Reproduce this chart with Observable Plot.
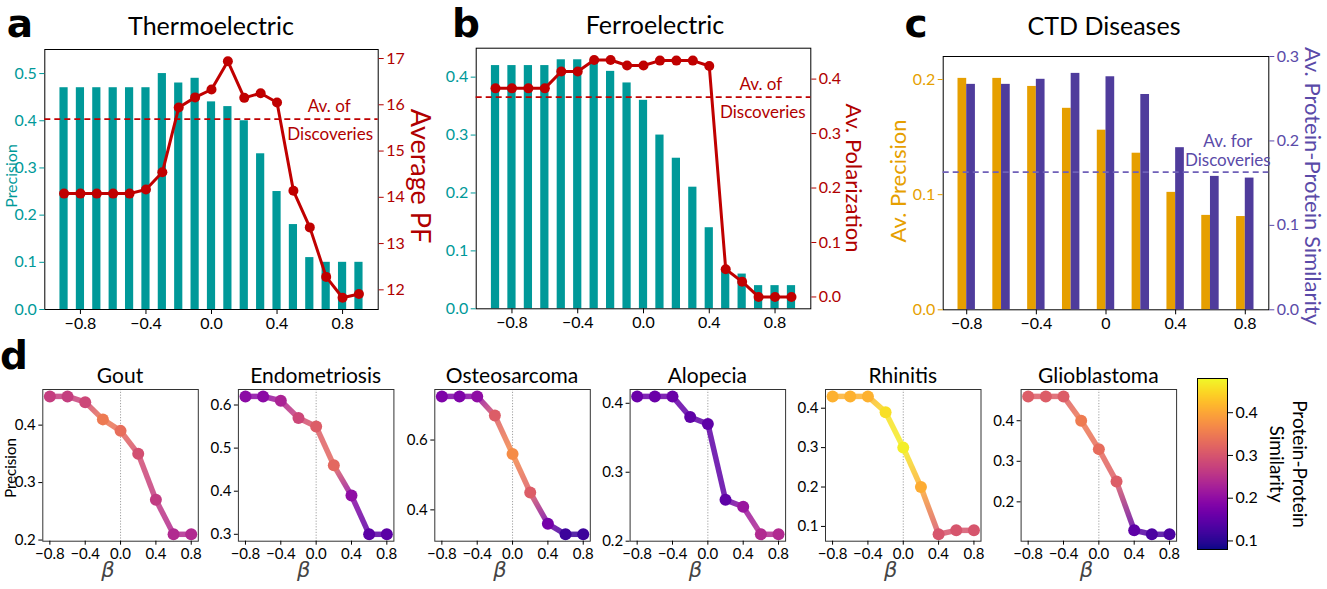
<!DOCTYPE html>
<html><head><meta charset="utf-8">
<script src="https://cdn.jsdelivr.net/npm/d3@7"></script>
<script src="https://cdn.jsdelivr.net/npm/@observablehq/plot@0.6"></script>
<style>
body{margin:0;background:#fff;}
#root{position:relative;width:1327px;height:589px;overflow:hidden;background:#fff;}
</style></head><body><div id="root"></div>
<script>
// ---------- DATA ----------
const betaAB = [-0.9,-0.8,-0.7,-0.6,-0.5,-0.4,-0.3,-0.2,-0.1,0,0.1,0.2,0.3,0.4,0.5,0.6,0.7,0.8,0.9];
const thermoPrecision = [0.47,0.47,0.47,0.47,0.47,0.47,0.50,0.48,0.49,0.44,0.43,0.40,0.33,0.25,0.18,0.11,0.10,0.10,0.10];
const thermoPF = [14.08,14.08,14.08,14.08,14.08,14.17,14.54,15.94,16.16,16.33,16.94,16.15,16.25,16.05,14.14,13.35,12.28,11.83,11.91];
const thermoAvgPF = [15.69];
const ferroPrecision = [0.42,0.42,0.42,0.42,0.43,0.43,0.43,0.41,0.39,0.36,0.30,0.26,0.21,0.14,0.07,0.06,0.04,0.04,0.04];
const ferroPolarization = [0.383,0.383,0.383,0.383,0.414,0.414,0.435,0.435,0.425,0.425,0.434,0.434,0.434,0.424,0.051,0.028,0.0,0.0,0.0];
const ferroAvgPol = [0.367];
const betaC = [-0.8,-0.6,-0.4,-0.2,0,0.2,0.4,0.6,0.8];
const ctdPrecision = [0.201,0.201,0.194,0.175,0.156,0.136,0.102,0.082,0.081];
const ctdSimilarity = [0.267,0.267,0.273,0.280,0.276,0.255,0.192,0.158,0.156];
const ctdAvgSim = [0.163];

const betaD = [-0.8,-0.6,-0.4,-0.2,0,0.2,0.4,0.6,0.8];
const diseaseNames = ["Gout","Endometriosis","Osteosarcoma","Alopecia","Rhinitis","Glioblastoma"];
const goutPrecision = [0.45,0.45,0.44,0.41,0.39,0.35,0.27,0.21,0.21];
const goutSimilarity = [0.268,0.268,0.28,0.348,0.332,0.292,0.264,0.24,0.24];
const endoPrecision = [0.62,0.62,0.61,0.57,0.55,0.46,0.39,0.30,0.30];
const endoSimilarity = [0.195,0.195,0.23,0.28,0.31,0.325,0.20,0.145,0.145];
const osteoPrecision = [0.725,0.725,0.725,0.67,0.56,0.45,0.36,0.33,0.33];
const osteoSimilarity = [0.18,0.18,0.20,0.31,0.37,0.31,0.17,0.115,0.115];
const alopeciaPrecision = [0.41,0.41,0.41,0.38,0.37,0.26,0.25,0.21,0.21];
const alopeciaSimilarity = [0.16,0.16,0.16,0.148,0.148,0.148,0.21,0.24,0.24];
const rhinitisPrecision = [0.43,0.43,0.43,0.39,0.30,0.20,0.08,0.09,0.09];
const rhinitisSimilarity = [0.41,0.41,0.41,0.455,0.47,0.405,0.30,0.30,0.30];
const glioPrecision = [0.46,0.46,0.46,0.40,0.33,0.25,0.13,0.12,0.12];
const glioSimilarity = [0.31,0.31,0.31,0.35,0.33,0.31,0.148,0.13,0.13];

const ticksAB = [-0.8,-0.4,0,0.4,0.8];
const thermoLeftTicks = [0,0.1,0.2,0.3,0.4,0.5];
const thermoRightTicks = [12,13,14,15,16,17];
const ferroLeftTicks = [0,0.1,0.2,0.3,0.4];
const ferroRightTicks = [0,0.1,0.2,0.3,0.4];
const ctdLeftTicks = [0,0.1,0.2];
const ctdRightTicks = [0,0.1,0.2,0.3];
const ticksD = [-0.8,-0.4,0,0.4,0.8];
const goutTicks = [0.2,0.3,0.4];
const endoTicks = [0.3,0.4,0.5,0.6];
const osteoTicks = [0.4,0.6];
const alopeciaTicks = [0.2,0.3,0.4];
const rhinitisTicks = [0.1,0.2,0.3,0.4];
const glioTicks = [0.2,0.3,0.4];
const colorbarDomain = [0.08,0.48];
const colorbarTicks = [0.1,0.2,0.3,0.4];

// ---------- SETUP ----------
const W = 1327, H = 589;
const root = document.getElementById("root");
const FONT = "Lato, 'Open Sans', sans-serif";
const fmt1 = d3.format(".1f");
const TEAL = "#009999", RED = "#c00000", DRED = "#b00000", ORANGE = "#e69f00", PURPLE = "#4f3c9c";

function framePlot(frame, opts) {
  const svg = Plot.plot({
    width: W, height: H,
    marginLeft: frame.left, marginRight: W - frame.right,
    marginTop: frame.top, marginBottom: H - frame.bottom,
    style: {background: "transparent", fontFamily: FONT, fontSize: "16px", overflow: "visible"},
    ...opts
  });
  svg.style.position = "absolute"; svg.style.left = "0px"; svg.style.top = "0px";
  root.appendChild(svg);
  return svg;
}
const axX = (ticks, fmt, extra={}) => Plot.axisX({ticks, tickFormat: fmt, tickSize: 5, tickPadding: 3, fontSize: 16, color: "#000", label: null, ...extra});
const axY = (ticks, fmt, color, anchor, extra={}) => Plot.axisY({anchor, ticks, tickFormat: fmt, tickSize: 5, tickPadding: 3, fontSize: 16, color, label: null, ...extra});

// ---------- PANEL A ----------
const thermoData = betaAB.map((b,i)=>({beta:b, precision:thermoPrecision[i], pf:thermoPF[i]}));
const frameA = {left:44.3, right:377.7, top:49, bottom:309};
const xAB = [-1.0175, 1.0175];
const half = 0.025;
framePlot(frameA, {
  x:{domain:xAB, axis:null}, y:{domain:[0,0.551], axis:null},
  marks:[
    Plot.rect(thermoData,{x1:d=>d.beta-half, x2:d=>d.beta+half, y1:0, y2:"precision", fill:TEAL}),
    Plot.frame({stroke:"#000"}),
    axX(ticksAB, fmt1),
    axY(thermoLeftTicks, fmt1, TEAL, "left")
  ]
});
framePlot(frameA, {
  x:{domain:xAB, axis:null}, y:{domain:[11.575,17.195], axis:null},
  marks:[
    Plot.ruleY(thermoAvgPF,{stroke:RED, strokeWidth:1.6, strokeDasharray:"6,4"}),
    Plot.line(thermoData,{x:"beta", y:"pf", stroke:RED, strokeWidth:3}),
    Plot.dot(thermoData,{x:"beta", y:"pf", fill:RED, r:5}),
    axY(thermoRightTicks, d3.format("d"), DRED, "right"),
    Plot.text(thermoAvgPF,{y:d=>d, text:()=>"Av. of", frameAnchor:"right", dx:-49, dy:-13, fill:DRED, fontSize:17, textAnchor:"middle", lineAnchor:"middle"}),
    Plot.text(thermoAvgPF,{y:d=>d, text:()=>"Discoveries", frameAnchor:"right", dx:-48, dy:15, fill:DRED, fontSize:17, textAnchor:"middle", lineAnchor:"middle"})
  ]
});

// ---------- PANEL B ----------
const ferroData = betaAB.map((b,i)=>({beta:b, precision:ferroPrecision[i], pol:ferroPolarization[i]}));
const frameB = {left:475.7, right:810.3, top:47.7, bottom:308.3};
framePlot(frameB, {
  x:{domain:xAB, axis:null}, y:{domain:[0,0.45], axis:null},
  marks:[
    Plot.rect(ferroData,{x1:d=>d.beta-half, x2:d=>d.beta+half, y1:0, y2:"precision", fill:TEAL}),
    Plot.frame({stroke:"#000"}),
    axX(ticksAB, fmt1),
    axY(ferroLeftTicks, fmt1, TEAL, "left")
  ]
});
framePlot(frameB, {
  x:{domain:xAB, axis:null}, y:{domain:[-0.02175,0.45675], axis:null},
  marks:[
    Plot.ruleY(ferroAvgPol,{stroke:RED, strokeWidth:1.6, strokeDasharray:"6,4"}),
    Plot.line(ferroData,{x:"beta", y:"pol", stroke:RED, strokeWidth:3}),
    Plot.dot(ferroData,{x:"beta", y:"pol", fill:RED, r:5}),
    axY(ferroRightTicks, fmt1, DRED, "right"),
    Plot.text(ferroAvgPol,{y:d=>d, text:()=>"Av. of", frameAnchor:"right", dx:-50, dy:-13, fill:DRED, fontSize:17, textAnchor:"middle", lineAnchor:"middle"}),
    Plot.text(ferroAvgPol,{y:d=>d, text:()=>"Discoveries", frameAnchor:"right", dx:-48, dy:15, fill:DRED, fontSize:17, textAnchor:"middle", lineAnchor:"middle"})
  ]
});

// ---------- PANEL C ----------
const ctdData = betaC.map((b,i)=>({beta:b, precision:ctdPrecision[i], sim:ctdSimilarity[i]}));
const frameC = {left:942.7, right:1268.3, top:56, bottom:309.3};
const xC = [-0.935, 0.935];
const wC = 0.05;
const fmtC = d => d === 0 ? "0" : fmt1(d);
framePlot(frameC, {
  x:{domain:xC, axis:null}, y:{domain:[0,0.22], axis:null},
  marks:[
    Plot.rect(ctdData,{x1:d=>d.beta-wC, x2:d=>d.beta, y1:0, y2:"precision", fill:ORANGE}),
    Plot.frame({stroke:"#000"}),
    axX(ticksAB, fmtC),
    axY(ctdLeftTicks, fmt1, ORANGE, "left")
  ]
});
framePlot(frameC, {
  x:{domain:xC, axis:null}, y:{domain:[0,0.3], axis:null},
  marks:[
    Plot.rect(ctdData,{x1:"beta", x2:d=>d.beta+wC, y1:0, y2:"sim", fill:PURPLE}),
    Plot.ruleY(ctdAvgSim,{stroke:"#6f60b8", strokeWidth:1.6, strokeDasharray:"6,4"}),
    axY(ctdRightTicks, fmt1, "#5a4aa8", "right"),
    Plot.text(ctdAvgSim,{y:d=>d, text:()=>"Av. for", frameAnchor:"right", dx:-41, dy:-31, fill:"#5a4aa8", fontSize:17, textAnchor:"middle", lineAnchor:"middle"}),
    Plot.text(ctdAvgSim,{y:d=>d, text:()=>"Discoveries", frameAnchor:"right", dx:-41, dy:-12, fill:"#5a4aa8", fontSize:17, textAnchor:"middle", lineAnchor:"middle"})
  ]
});

// ---------- PANEL D ----------
const dPrecisions = [goutPrecision, endoPrecision, osteoPrecision, alopeciaPrecision, rhinitisPrecision, glioPrecision];
const dSims = [goutSimilarity, endoSimilarity, osteoSimilarity, alopeciaSimilarity, rhinitisSimilarity, glioSimilarity];
const dTicks = [goutTicks, endoTicks, osteoTicks, alopeciaTicks, rhinitisTicks, glioTicks];
const dLeft = [42.3, 237.9, 434.3, 629.6, 825.0, 1020.6];
const dWidth = 155.5;
const dCenters = [];
diseaseNames.forEach((name, i) => {
  const prec = dPrecisions[i], sim = dSims[i];
  const pts = betaD.map((b,j)=>({beta:b, precision:prec[j], sim:sim[j]}));
  const segs = d3.pairs(pts).map(([a,b])=>({a,b}));
  const [lo,hi] = d3.extent(prec); const pad = (hi-lo)*0.05;
  const frame = {left:dLeft[i], right:dLeft[i]+dWidth, top:389, bottom:540.7};
  dCenters.push((frame.left+frame.right)/2);
  const svg = framePlot(frame, {
    x:{domain:[-0.88,0.88], axis:null}, y:{domain:[lo-pad,hi+pad], axis:null},
    color:{type:"linear", scheme:"plasma", domain:colorbarDomain},
    marks:[
      Plot.ruleX([0],{stroke:"#888", strokeWidth:0.8, strokeDasharray:"1.2,1.6"}),
      Plot.link(segs,{x1:d=>d.a.beta, y1:d=>d.a.precision, x2:d=>d.b.beta, y2:d=>d.b.precision, stroke:d=>d.a.sim, strokeWidth:5.5, strokeOpacity:0.85}),
      Plot.dot(pts,{x:"beta", y:"precision", fill:"sim", r:6}),
      Plot.frame({stroke:"#333"}),
      Plot.axisX({ticks:ticksD, tickFormat:fmt1, tickSize:4, tickPadding:3, fontSize:15, color:"#000", label:null}),
      Plot.axisY({ticks:dTicks[i], tickFormat:fmt1, tickSize:4, tickPadding:3, fontSize:15, color:"#000", label:null})
    ]
  });
  const xs = svg.scale("x"), ys = svg.scale("y"), cs = svg.scale("color");
  const sel = d3.select(svg);
  const defs = sel.insert("defs", ":first-child");
  sel.selectAll('g[aria-label="link"] path').each(function(_, j) {
    const s = segs[j]; if (!s) return;
    const id = `grad${i}_${j}`;
    const g = defs.append("linearGradient").attr("id", id).attr("gradientUnits", "userSpaceOnUse")
      .attr("x1", xs.apply(s.a.beta)).attr("y1", ys.apply(s.a.precision))
      .attr("x2", xs.apply(s.b.beta)).attr("y2", ys.apply(s.b.precision));
    g.append("stop").attr("offset", 0).attr("stop-color", cs.apply(s.a.sim));
    g.append("stop").attr("offset", 1).attr("stop-color", cs.apply(s.b.sim));
    d3.select(this).attr("stroke", `url(#${id})`);
  });
});

// colorbar
const cbN = 171;
const cbStep = (colorbarDomain[1]-colorbarDomain[0])/cbN;
const cbCells = d3.range(cbN).map(k => colorbarDomain[0] + k*cbStep);
framePlot({left:1197, right:1227, top:378, bottom:549}, {
  x:{domain:[0,1], axis:null}, y:{domain:colorbarDomain, axis:null},
  color:{type:"linear", scheme:"plasma", domain:colorbarDomain},
  marks:[
    Plot.rect(cbCells,{x1:0, x2:1, y1:d=>d, y2:d=>Math.min(d+cbStep*1.3, colorbarDomain[1]), fill:d=>d+cbStep/2}),
    Plot.frame({stroke:"#000"}),
    Plot.axisY({anchor:"right", ticks:colorbarTicks, tickFormat:fmt1, tickSize:5, tickPadding:3, fontSize:16, color:"#000", label:null})
  ]
});

// ---------- TEXT OVERLAY ----------
const ov = d3.select(root).append("svg").attr("width", W).attr("height", H)
  .style("position","absolute").style("left","0px").style("top","0px").style("font-family", FONT);
function txt(s, x, y, o={}) {
  const t = ov.append("text").attr("x", x).attr("y", y).attr("text-anchor", o.anchor || "middle")
    .attr("font-size", o.size || 22).attr("fill", o.fill || "#000").text(s);
  if (o.weight) t.attr("font-weight", o.weight);
  if (o.style) t.attr("font-style", o.style);
  if (o.family) t.attr("font-family", o.family);
  if (o.rotate != null) t.attr("transform", `rotate(${o.rotate},${x},${y})`).attr("dominant-baseline", "central");
  return t;
}
const LETTER = {size:39, weight:700, family:"'DejaVu Sans', sans-serif"};
txt("a", 20, 37, LETTER);
txt("b", 466, 37, LETTER);
txt("c", 916, 37, LETTER);
txt("d", 14, 369, LETTER);
txt("Thermoelectric", 211, 35, {size:25});
txt("Ferroelectric", 655, 34, {size:25});
txt("CTD Diseases", 1104, 35, {size:25});
txt("Precision", 10, 176, {rotate:-90, fill:TEAL, size:16});
txt("Average PF", 421, 176, {rotate:90, fill:DRED, size:27});
txt("Av. Polarization", 854, 178, {rotate:90, fill:DRED});
txt("Av. Precision", 897, 181, {rotate:-90, fill:ORANGE});
txt("Av. Protein-Protein Similarity", 1313, 186, {rotate:90, fill:"#5a4aa8"});
txt("Precision", 9.5, 468, {rotate:-90, size:15});
diseaseNames.forEach((n,i) => {
  txt(n, dCenters[i], 383, {size:21});
  txt("β", dCenters[i]-12, 577, {size:21, style:"italic", family:"'DejaVu Sans', sans-serif", fill:"#444"});
});
txt("Protein-Protein", 1300, 464, {rotate:90, size:19});
txt("Similarity", 1277, 464, {rotate:90, size:19});
</script></body></html>
